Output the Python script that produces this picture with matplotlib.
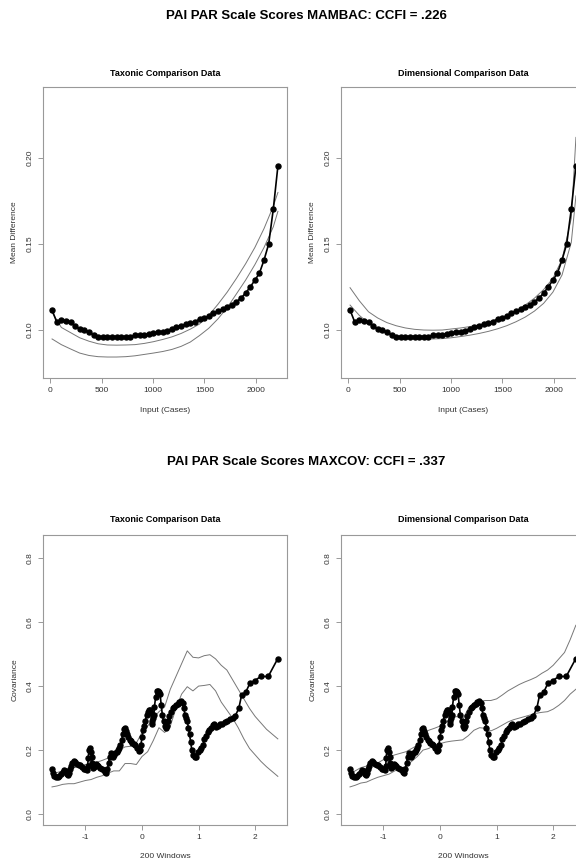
import matplotlib
matplotlib.use("Agg")
import matplotlib.pyplot as plt

plt.rcParams['font.family'] = ['Liberation Sans', 'DejaVu Sans']
plt.rcParams['axes.unicode_minus'] = False

# ---- MAMBAC data (input cases vs mean difference) ----
cases = [20, 65, 110, 154, 199, 244, 288, 333, 378, 423, 467, 512, 557, 602, 646,
         691, 736, 781, 825, 870, 915, 960, 1004, 1049, 1094, 1139, 1183, 1228,
         1273, 1318, 1362, 1407, 1452, 1496, 1541, 1586, 1631, 1675, 1720, 1765,
         1810, 1854, 1899, 1944, 1989, 2033, 2078, 2123, 2168, 2213]
mean_diff = [.1116, .1047, .1058, .1052, .1044, .1023, .1005, .1002, .0988, .0971,
             .0961, .0961, .0962, .0962, .0962, .0962, .0962, .0962, .0970, .0972,
             .0972, .0978, .0980, .0988, .0989, .0996, .1008, .1018, .1025, .1033,
             .1039, .1045, .1065, .1068, .1080, .1097, .1110, .1120, .1135, .1147,
             .1165, .1185, .1215, .1250, .1290, .1330, .1407, .1500, .1703, .1955]

env_cases = [20, 110, 199, 288, 378, 467, 557, 646, 736, 825, 915, 1004, 1094,
             1183, 1273, 1362, 1452, 1541, 1631, 1720, 1810, 1899, 1989, 2078,
             2168, 2213]
tax_md_hi = [.1103, .1015, .0985, .0955, .0935, .0920, .0913, .0912, .0913, .0915,
             .0922, .0932, .0945, .0960, .0980, .1005, .1035, .1085, .1150, .1220,
             .1300, .1385, .1480, .1590, .1720, .1800]
tax_md_lo = [.0948, .0915, .0890, .0866, .0852, .0845, .0843, .0843, .0845, .0850,
             .0858, .0866, .0875, .0887, .0905, .0930, .0968, .1010, .1065, .1130,
             .1210, .1290, .1380, .1480, .1600, .1690]
dim_md_hi = [.1246, .1170, .1106, .1070, .1043, .1025, .1012, .1004, .1000, .0999,
             .1000, .1006, .1012, .1020, .1030, .1045, .1065, .1085, .1110, .1145,
             .1185, .1235, .1300, .1410, .1650, .2120]
dim_md_lo = [.1145, .1085, .1040, .1005, .0982, .0965, .0955, .0950, .0948, .0948,
             .0950, .0955, .0962, .0970, .0980, .0992, .1007, .1025, .1048, .1075,
             .1110, .1155, .1220, .1320, .1510, .1780]

# ---- MAXCOV data (200 windows vs covariance) ----
windows = [-1.59, -1.57, -1.55, -1.52, -1.49, -1.46, -1.43, -1.40, -1.37, -1.35,
           -1.33, -1.31, -1.29, -1.27, -1.25, -1.23, -1.21, -1.18, -1.15, -1.12,
           -1.09, -1.06, -1.03, -1.00, -0.98, -0.96, -0.95, -0.94, -0.92, -0.90,
           -0.89, -0.88, -0.86, -0.84, -0.82, -0.80, -0.77, -0.74, -0.71, -0.68,
           -0.65, -0.63, -0.61, -0.59, -0.57, -0.55, -0.53, -0.51, -0.49, -0.47,
           -0.45, -0.42, -0.40, -0.38, -0.36, -0.34, -0.32, -0.30, -0.28, -0.26,
           -0.24, -0.22, -0.20, -0.18, -0.15, -0.12, -0.09, -0.06, -0.04, -0.02,
           0.00, 0.02, 0.04, 0.06, 0.08, 0.10, 0.12, 0.14, 0.16, 0.17,
           0.18, 0.19, 0.21, 0.22, 0.24, 0.26, 0.28, 0.30, 0.32, 0.34,
           0.36, 0.38, 0.40, 0.42, 0.44, 0.46, 0.48, 0.51, 0.54, 0.57,
           0.60, 0.63, 0.66, 0.69, 0.72, 0.74, 0.76, 0.78, 0.80, 0.82,
           0.84, 0.86, 0.88, 0.90, 0.93, 0.96, 0.99, 1.02, 1.05, 1.08,
           1.10, 1.13, 1.16, 1.19, 1.22, 1.25, 1.28, 1.31, 1.34, 1.38,
           1.42, 1.46, 1.50, 1.55, 1.60, 1.65, 1.71, 1.76, 1.83, 1.91,
           1.99, 2.10, 2.23, 2.40]
covariance = [.140, .130, .118, .115, .116, .120, .125, .132, .138, .135,
              .125, .122, .128, .140, .150, .160, .165, .163, .158, .155,
              .152, .148, .142, .140, .138, .150, .175, .200, .205, .195,
              .180, .160, .145, .148, .156, .155, .150, .145, .142, .138,
              .132, .130, .140, .160, .180, .190, .185, .178, .185, .190,
              .195, .200, .205, .215, .230, .250, .265, .268, .260, .250,
              .240, .232, .228, .222, .220, .215, .205, .198, .200, .215,
              .240, .262, .275, .290, .310, .320, .325, .325, .315, .290,
              .280, .300, .310, .335, .365, .385, .385, .380, .375, .340,
              .310, .290, .275, .270, .275, .290, .305, .320, .330, .335,
              .340, .345, .350, .352, .348, .330, .310, .300, .290, .270,
              .250, .225, .200, .185, .180, .180, .195, .200, .205, .215,
              .235, .245, .255, .262, .270, .278, .280, .272, .275, .280,
              .283, .287, .292, .298, .300, .308, .330, .372, .380, .410,
              .417, .430, .430, .486]

env_windows = [-1.59, -1.5, -1.4, -1.3, -1.2, -1.1, -1.0, -0.9, -0.8, -0.7, -0.6,
               -0.5, -0.4, -0.3, -0.2, -0.1, 0.0, 0.1, 0.2, 0.3, 0.4, 0.5, 0.6,
               0.7, 0.8, 0.9, 1.0, 1.1, 1.2, 1.3, 1.4, 1.5, 1.6, 1.7, 1.8, 1.9,
               2.0, 2.1, 2.2, 2.3, 2.4]
tax_cov_hi = [.128, .130, .135, .140, .145, .150, .155, .160, .162, .168, .175,
              .188, .200, .210, .212, .222, .255, .275, .300, .320, .335, .390,
              .430, .470, .510, .490, .488, .495, .498, .485, .465, .450, .420,
              .390, .360, .330, .305, .285, .265, .250, .235]
tax_cov_lo = [.085, .088, .093, .095, .095, .100, .105, .108, .115, .120, .128,
              .135, .135, .158, .158, .155, .180, .195, .230, .270, .255, .275,
              .330, .375, .398, .385, .400, .402, .405, .385, .350, .325, .300,
              .270, .235, .205, .185, .165, .148, .133, .118]
dim_cov_hi = [.125, .135, .145, .150, .155, .160, .170, .178, .185, .190, .195,
              .205, .215, .250, .262, .268, .275, .285, .300, .305, .295, .330,
              .348, .352, .355, .355, .360, .372, .385, .395, .405, .413, .420,
              .428, .440, .450, .465, .485, .505, .545, .590]
dim_cov_lo = [.085, .090, .097, .100, .108, .115, .120, .125, .135, .142, .150,
              .165, .180, .200, .205, .215, .220, .225, .228, .230, .232, .245,
              .262, .270, .268, .260, .268, .278, .288, .295, .300, .305, .310,
              .315, .318, .320, .328, .340, .355, .375, .390]

W, H = 576, 867
fig = plt.figure(figsize=(W / 100, H / 100), dpi=100)

def box(x0, y0, x1, y1):
    return [x0 / W, 1 - y1 / H, (x1 - x0) / W, (y1 - y0) / H]

def style(ax, ylabels):
    for s in ax.spines.values():
        s.set_color('#999999')
        s.set_linewidth(0.8)
    ax.tick_params(direction='out', length=3.5, width=0.7, color='#999999',
                   labelcolor='#333333', labelsize=6, pad=3)
    ax.set_yticklabels(ylabels, rotation=90, va='center')

def panel(ax, x, y, ex, hi, lo, xlim, ylim, xticks, yticks, ylabels, ylab, xlab,
          left, ytop, ybot):
    ax.plot(ex, hi, color='#777777', lw=0.7)
    ax.plot(ex, lo, color='#777777', lw=0.7)
    ax.plot(x, y, color='black', lw=1.2, marker='o', markersize=3.6)
    ax.set_xlim(xlim)
    ax.set_ylim(ylim)
    ax.set_xticks(xticks)
    ax.set_yticks(yticks)
    style(ax, ylabels)
    fig.text((left - 28) / W, 1 - (ytop + ybot) / 2 / H, ylab, rotation=90,
             ha='center', va='center', fontsize=6, color='#333333')
    fig.text((left + 122) / W, 1 - (ybot + 32) / H, xlab, ha='center', va='center',
             fontsize=6, color='#333333')

# top row: MAMBAC
for left, title, hi, lo in [(43, 'Taxonic Comparison Data', tax_md_hi, tax_md_lo),
                            (341, 'Dimensional Comparison Data', dim_md_hi, dim_md_lo)]:
    ax = fig.add_axes(box(left, 87, left + 244, 378))
    panel(ax, cases, mean_diff, env_cases, hi, lo, (-68, 2301), (0.0721, 0.2413),
          [0, 500, 1000, 1500, 2000], [0.10, 0.15, 0.20], ['0.10', '0.15', '0.20'],
          'Mean Difference', 'Input (Cases)', left, 87, 378)
    fig.text((left + 122) / W, 1 - 73 / H, title, ha='center', va='center',
             fontsize=6.5, fontweight='bold')

# bottom row: MAXCOV
for left, title, hi, lo in [(43, 'Taxonic Comparison Data', tax_cov_hi, tax_cov_lo),
                            (341, 'Dimensional Comparison Data', dim_cov_hi, dim_cov_lo)]:
    ax = fig.add_axes(box(left, 535, left + 244, 825))
    panel(ax, windows, covariance, env_windows, hi, lo, (-1.749, 2.562), (-0.034, 0.872),
          [-1, 0, 1, 2], [0.0, 0.2, 0.4, 0.6, 0.8], ['0.0', '0.2', '0.4', '0.6', '0.8'],
          'Covariance', '200 Windows', left, 535, 825)
    fig.text((left + 122) / W, 1 - 519 / H, title, ha='center', va='center',
             fontsize=6.5, fontweight='bold')

fig.text(306 / W, 1 - 16 / H, 'PAI PAR Scale Scores MAMBAC: CCFI = .226',
         ha='center', va='center', fontsize=9.5, fontweight='bold')
fig.text(306 / W, 1 - 462 / H, 'PAI PAR Scale Scores MAXCOV: CCFI = .337',
         ha='center', va='center', fontsize=9.5, fontweight='bold')

fig.savefig('out.png', dpi=100)
